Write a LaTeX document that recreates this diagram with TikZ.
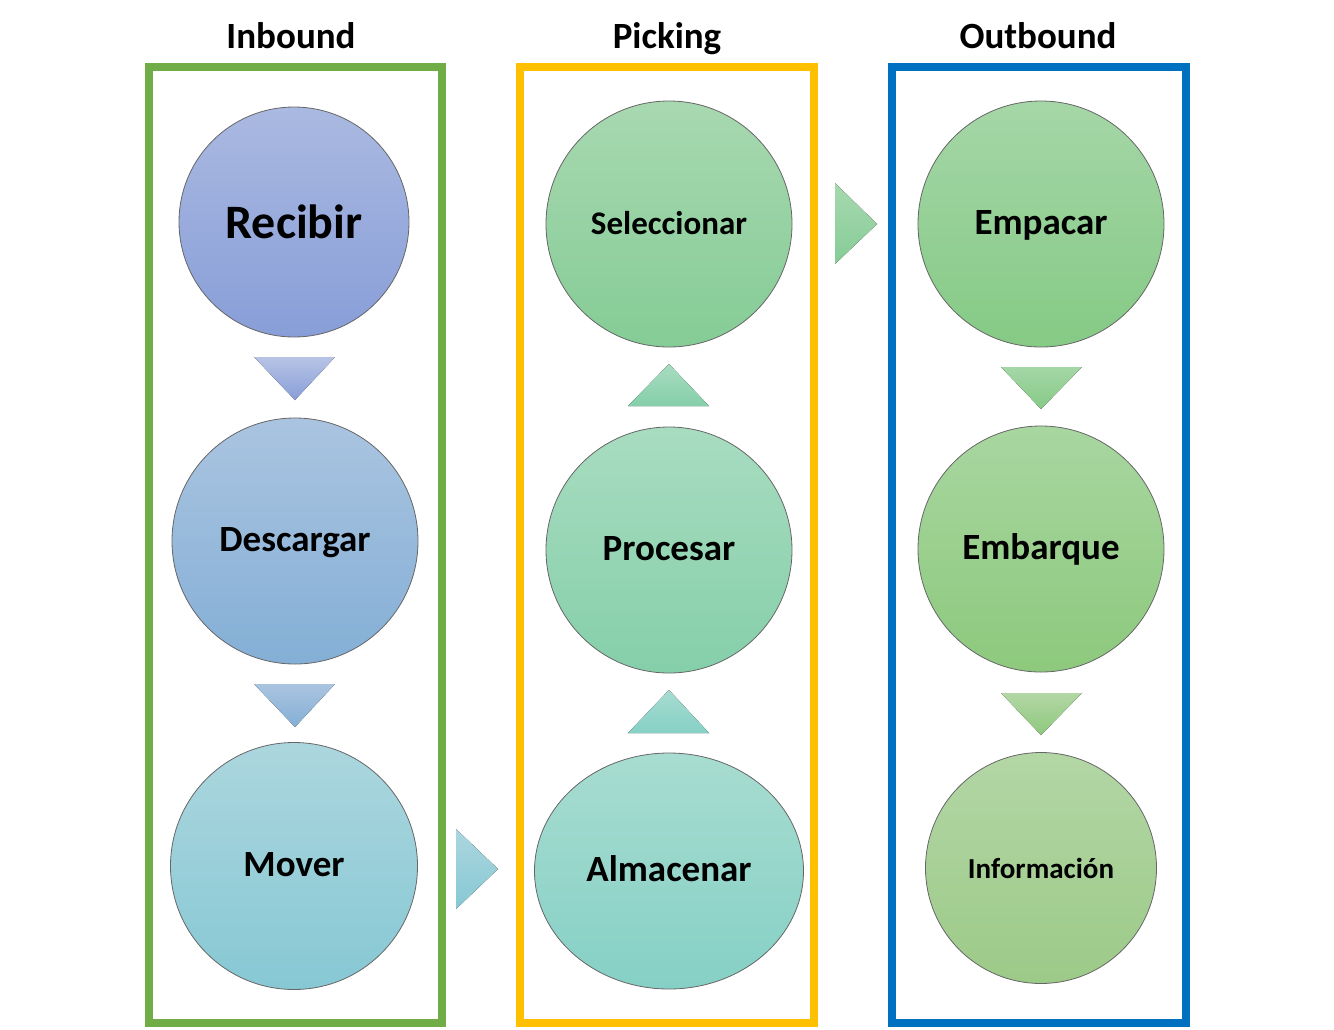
\documentclass[tikz,border=0pt]{standalone}
\usepackage{fontspec}
\setmainfont{Carlito}
\usetikzlibrary{calc,shapes.geometric}
\begin{document}
\begin{tikzpicture}[x=1pt,y=-1pt,
  frame/.style={line width=8pt},
  title/.style={font=\fontsize{37}{44}\selectfont\bfseries, anchor=base},
  lbl/.style={text height=25pt, text depth=4pt},
  bub/.style={circle, draw=black!60, line width=0.8pt, minimum size=#1, inner sep=0pt, font=\fontsize{37}{44}\selectfont\bfseries, lbl},
]
\useasboundingbox (0,0) rectangle (1334,1029);
% frames
\draw[frame, draw={rgb,255:red,112;green,173;blue,71}] (149,67) rectangle (442,1023);
\draw[frame, draw={rgb,255:red,255;green,192;blue,0}] (520,67) rectangle (814,1023);
\draw[frame, draw={rgb,255:red,0;green,112;blue,192}] (892,67) rectangle (1186,1023);
% titles
\node[title] (t1) at (291,48) {Inbound};
\node[title] (t2) at (667,48) {Picking};
\node[title] (t3) at (1038,48) {Outbound};
% colours
\definecolor{c1t}{RGB}{170,185,225}\definecolor{c1b}{RGB}{136,158,216}
\definecolor{c2t}{RGB}{170,196,224}\definecolor{c2b}{RGB}{132,175,214}
\definecolor{c3t}{RGB}{172,214,222}\definecolor{c3b}{RGB}{134,200,212}
\definecolor{c4t}{RGB}{168,216,176}\definecolor{c4b}{RGB}{133,204,150}
\definecolor{c5t}{RGB}{168,220,192}\definecolor{c5b}{RGB}{133,207,170}
\definecolor{c6t}{RGB}{168,220,208}\definecolor{c6b}{RGB}{133,208,198}
\definecolor{c7t}{RGB}{165,214,167}\definecolor{c7b}{RGB}{133,202,133}
\definecolor{c8t}{RGB}{168,214,160}\definecolor{c8b}{RGB}{141,201,125}
\definecolor{c9t}{RGB}{179,214,165}\definecolor{c9b}{RGB}{156,202,136}
% circles
\node[bub=230pt, top color=c1t, bottom color=c1b, font=\fontsize{48}{56}\selectfont\bfseries, text height=36pt, text depth=4pt] (rec) at (294,222) {Recibir};
\node[bub=246pt, top color=c2t, bottom color=c2b] (des) at (295,541) {Descargar};
\node[bub=247pt, top color=c3t, bottom color=c3b] (mov) at (294,866) {Mover};
\node[bub=246pt, top color=c4t, bottom color=c4b, font=\fontsize{33}{40}\selectfont\bfseries] (sel) at (669,224) {Seleccionar};
\node[bub=246pt, top color=c5t, bottom color=c5b] (pro) at (669,550) {Procesar};
\node[ellipse, draw=black!60, line width=0.8pt, minimum width=269pt, minimum height=236pt, inner sep=0pt, top color=c6t, bottom color=c6b, font=\fontsize{37}{44}\selectfont\bfseries, lbl] (alm) at (669,871) {Almacenar};
\node[bub=246pt, top color=c7t, bottom color=c7b] (emp) at (1041,224) {Empacar};
\node[bub=246pt, top color=c8t, bottom color=c8b] (emb) at (1041,549) {Embarque};
\node[bub=231pt, top color=c9t, bottom color=c9b, font=\fontsize{29}{35}\selectfont\bfseries] (inf) at (1041,868) {Información};
% triangles (connectors)
\fill[top color=c1t!85!white, bottom color=c1b] (254,357) -- (335,357) -- (295,400) -- cycle;
\fill[top color=c2t, bottom color=c2b] (254,684) -- (335,684) -- (295,727) -- cycle;
\fill[top color=c5t, bottom color=c5b] (628,406) -- (709,406) -- (669,364) -- cycle;
\fill[top color=c6t, bottom color=c6b] (628,733) -- (709,733) -- (669,690) -- cycle;
\fill[top color=c7t, bottom color=c7b] (1001,367) -- (1082,367) -- (1041,409) -- cycle;
\fill[top color=c9t, bottom color=c8b] (1001,693) -- (1082,693) -- (1041,735) -- cycle;
\fill[top color=c4t, bottom color=c4b] (835,183) -- (835,264) -- (877,224) -- cycle;
\fill[top color=c3t, bottom color=c3b] (456,829) -- (456,909) -- (498,869) -- cycle;
\end{tikzpicture}
\end{document}
